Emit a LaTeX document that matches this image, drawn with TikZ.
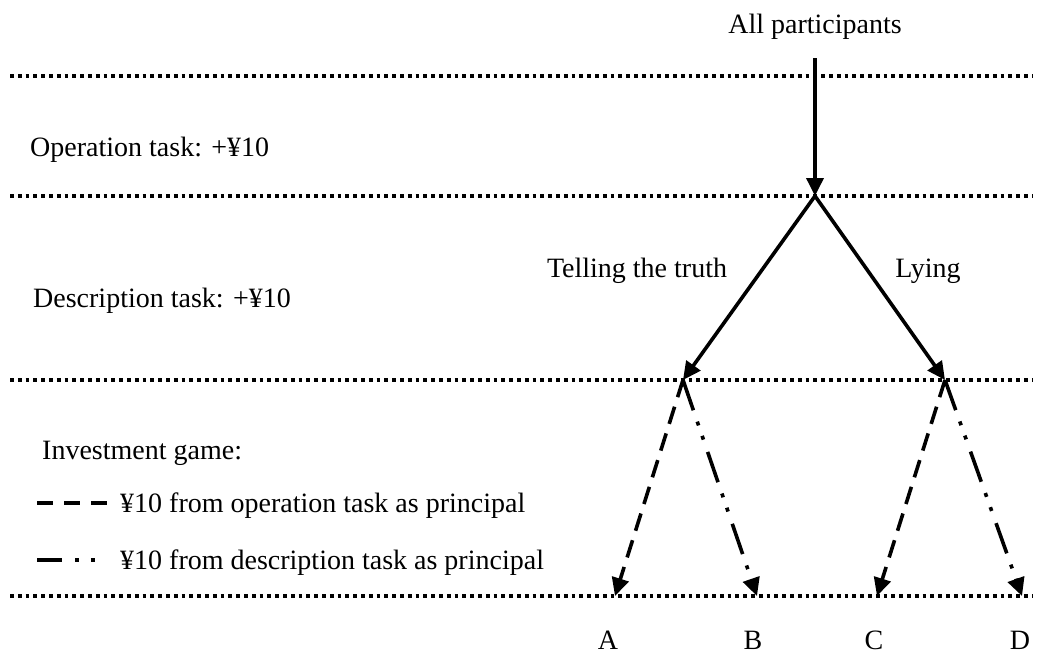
\documentclass[tikz,border=0pt]{standalone}
\usepackage{fontspec}
\setmainfont{Liberation Serif}
\usetikzlibrary{arrows.meta}
\begin{document}
\begin{tikzpicture}[x=1pt,y=-1pt,
  lbl/.style={inner sep=0pt,font=\fontsize{28}{32}\selectfont},
  sep/.style={line width=3.8pt,dash pattern=on 3.8pt off 4pt},
  arr/.style={line width=3.6pt,-{Triangle[length=18pt,width=17pt]}},
  opline/.style={arr,dash pattern=on 18pt off 10pt},
  dsline/.style={arr,dash pattern=on 32pt off 12pt on 4pt off 11pt on 4pt off 13pt}]
\useasboundingbox (0,0) rectangle (1039,656);
% separators
\foreach \n/\y in {s1/76,s2/196,s3/380,s4/596}{
  \coordinate (\n l) at (10,\y);
  \coordinate (\n r) at (1032,\y);
  \draw[sep] (\n l) -- (\n r);
}
% tree points
\coordinate (top) at (815,58);
\coordinate (root) at (815,196);
\coordinate (T) at (683,380);
\coordinate (L) at (945,380);
\coordinate (a) at (615,596);
\coordinate (b) at (757,596);
\coordinate (c) at (877,596);
\coordinate (d) at (1022,596);
\node[lbl,anchor=base] (all) at (815,33) {All participants};
\draw[arr] (top) -- (root);
\draw[arr] (root) -- (T);
\draw[arr] (root) -- (L);
\draw[opline] (T) -- (a);
\draw[dsline] (T) -- (b);
\draw[opline] (L) -- (c);
\draw[dsline] (L) -- (d);
\node[lbl,anchor=base] (tt) at (637,277) {Telling the truth};
\node[lbl,anchor=base] (ly) at (928,277) {Lying};
\node[lbl,anchor=base west] (op) at (30,156) {Operation task: +¥10};
\node[lbl,anchor=base west] (de) at (33,307) {Description task: +¥10};
\node[lbl,anchor=base west] (inv) at (42,459) {Investment game:};
\coordinate (l1a) at (37,503);
\coordinate (l1b) at (108,503);
\coordinate (l2a) at (37,560);
\coordinate (l2b) at (97,560);
\draw[line width=3.8pt,dash pattern=on 16pt off 11pt] (l1a) -- (l1b);
\draw[line width=3.8pt,dash pattern=on 25pt off 13pt on 3.8pt off 12pt on 3.8pt off 20pt] (l2a) -- (l2b);
\node[lbl,anchor=base west] (le1) at (120,512) {¥10 from operation task as principal};
\node[lbl,anchor=base west] (le2) at (120,569) {¥10 from description task as principal};
\node[lbl,anchor=base] (A) at (608,649) {A};
\node[lbl,anchor=base] (B) at (753,649) {B};
\node[lbl,anchor=base] (C) at (874,649) {C};
\node[lbl,anchor=base] (D) at (1020,649) {D};
\end{tikzpicture}
\end{document}
